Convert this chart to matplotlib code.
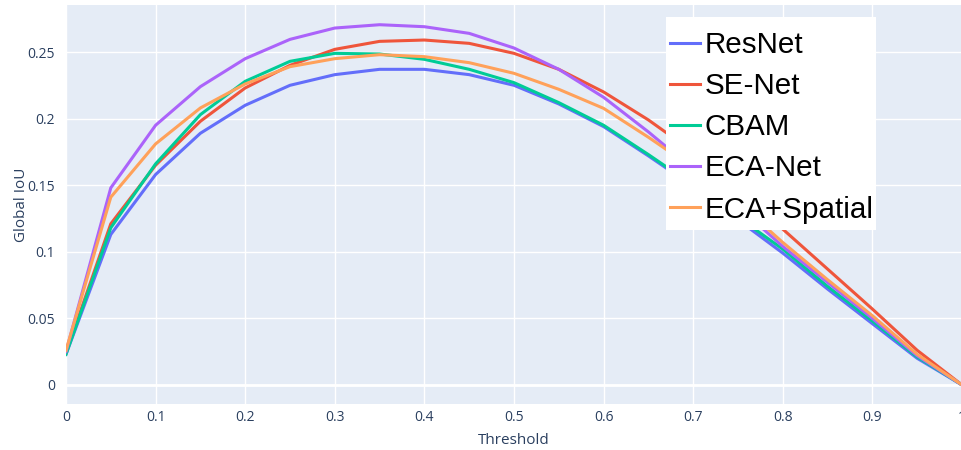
import matplotlib.pyplot as plt
from matplotlib.patches import Rectangle
import numpy as np

# Threshold sweep and Global IoU per model
thresholds = np.round(np.arange(0, 1.0001, 0.05), 2)

resnet = [0.023, 0.113, 0.158, 0.189, 0.210, 0.225, 0.233, 0.237, 0.237, 0.233, 0.225,
          0.211, 0.194, 0.172, 0.149, 0.124, 0.099, 0.072, 0.046, 0.020, 0.0]
se_net = [0.024, 0.121, 0.165, 0.198, 0.223, 0.240, 0.252, 0.258, 0.259, 0.2565, 0.249,
          0.237, 0.220, 0.199, 0.175, 0.147, 0.117, 0.087, 0.057, 0.026, 0.0]
cbam = [0.023, 0.118, 0.166, 0.203, 0.228, 0.243, 0.249, 0.2485, 0.2445, 0.237, 0.227,
        0.212, 0.195, 0.173, 0.150, 0.126, 0.102, 0.074, 0.048, 0.021, 0.0]
eca_net = [0.025, 0.148, 0.195, 0.224, 0.245, 0.2595, 0.268, 0.2705, 0.269, 0.264, 0.253,
           0.237, 0.216, 0.190, 0.162, 0.134, 0.104, 0.077, 0.050, 0.022, 0.0]
eca_spatial = [0.026, 0.141, 0.181, 0.208, 0.226, 0.239, 0.245, 0.248, 0.2465, 0.242, 0.234,
               0.222, 0.2077, 0.186, 0.163, 0.137, 0.107, 0.079, 0.052, 0.023, 0.0]

names = ['ResNet', 'SE-Net', 'CBAM', 'ECA-Net', 'ECA+Spatial']
colors = ['#636EFA', '#EF553B', '#00CC96', '#AB63FA', '#FFA15A']

x_ticks = [0, 0.1, 0.2, 0.3, 0.4, 0.5, 0.6, 0.7, 0.8, 0.9, 1]
x_tick_labels = ['0', '0.1', '0.2', '0.3', '0.4', '0.5', '0.6', '0.7', '0.8', '0.9', '1']
y_ticks = [0, 0.05, 0.1, 0.15, 0.2, 0.25]
y_tick_labels = ['0', '0.05', '0.1', '0.15', '0.2', '0.25']

text_color = '#2a3f5f'
W, H = 962, 450

fig = plt.figure(figsize=(W / 100, H / 100), dpi=100)
ax = fig.add_axes([66 / W, 1 - 404 / H, 1 - 66 / W, (404 - 5) / H])
ax.set_facecolor('#E5ECF6')

for vals, name, c in zip([resnet, se_net, cbam, eca_net, eca_spatial], names, colors):
    ax.plot(thresholds, vals, color=c, linewidth=2.2, label=name, solid_joinstyle='round')

ax.set_xlim(0, 1)
ax.set_ylim(-0.0143, 0.2853)
ax.set_xticks(x_ticks)
ax.set_xticklabels(x_tick_labels)
ax.set_yticks(y_ticks)
ax.set_yticklabels(y_tick_labels)
ax.grid(True, color='white', linewidth=1)
ax.axhline(0, color='white', linewidth=2, zorder=1)
ax.set_axisbelow(True)
ax.tick_params(axis='x', length=0, labelsize=10, colors=text_color, pad=4)
ax.tick_params(axis='y', length=0, labelsize=10, colors=text_color, pad=8)
for lbl in ax.get_xticklabels() + ax.get_yticklabels():
    lbl.set_family('Open Sans')
for s in ax.spines.values():
    s.set_visible(False)

ax.set_xlabel('Threshold', fontsize=11, color=text_color, family='Open Sans', labelpad=6)
ax.set_ylabel('Global IoU', fontsize=11, color=text_color, family='Open Sans', labelpad=-1)

# white legend panel, entries placed on top of it
ax.add_patch(Rectangle((666 / W, 1 - 230 / H), 210 / W, 213 / H, transform=fig.transFigure,
                       facecolor='white', edgecolor='none', zorder=4, clip_on=False))
leg = ax.legend(loc='upper left', bbox_to_anchor=(666 / W, 1 - 27 / H),
                bbox_transform=fig.transFigure, borderaxespad=0,
                prop={'family': 'Liberation Sans', 'size': 21.3},
                handlelength=1.0, handletextpad=0.15, labelspacing=0.44,
                borderpad=0.15, frameon=False)
leg.set_zorder(5)

fig.savefig('out.png', dpi=100)
